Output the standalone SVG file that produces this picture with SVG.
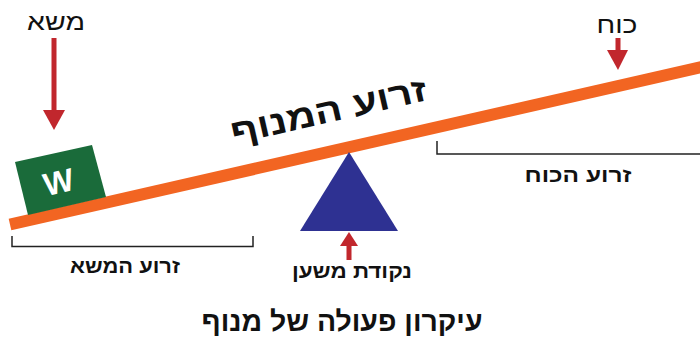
<svg xmlns="http://www.w3.org/2000/svg" width="700" height="340" viewBox="0 0 700 340">
<style>
.t{font-family:"Liberation Sans","DejaVu Sans",sans-serif;fill:#111;text-anchor:middle}
.b{font-weight:bold}
.red{fill:#c1272d}
.br{fill:none;stroke:#222;stroke-width:1.5}
</style>
<rect width="700" height="340" fill="#fff"/>
<g id="connectors">
<path class="br" d="M12,236 V246.5 H253 V236"/>
<path class="br" d="M437,141 V154 H700"/>
<rect class="red" x="51.5" y="38" width="5" height="74"/>
<polygon class="red" points="43,110 65,110 54,130"/>
<rect class="red" x="615.5" y="38" width="5" height="14"/>
<polygon class="red" points="607,50 628,50 618,70"/>
<rect class="red" x="346.5" y="244" width="5" height="16"/>
<polygon class="red" points="340,246 358,246 349,232"/>
</g>
<g id="lever">
<line x1="10" y1="224.5" x2="702" y2="67" stroke="#f26522" stroke-width="12"/>
<text class="t b" font-size="34" textLength="200" lengthAdjust="spacingAndGlyphs" transform="translate(331,122) rotate(-12.8)">זרוע המנוף</text>
</g>
<g id="fulcrum">
<polygon points="349,152 300,231 398,231" fill="#2e3192"/>
<text class="t b" x="352" y="278" font-size="20" textLength="120" lengthAdjust="spacingAndGlyphs">נקודת משען</text>
</g>
<g id="weight">
<polygon points="15,162 92,145 106,197 28,215" fill="#1a6b3a"/>
<text class="t b" font-size="32" style="fill:#fff" transform="translate(61,193) rotate(-12.8)">W</text>
<text class="t" x="56" y="30" font-size="24" textLength="58" lengthAdjust="spacingAndGlyphs">משא</text>
</g>
<g id="force">
<text class="t" x="617" y="33" font-size="24" textLength="41" lengthAdjust="spacingAndGlyphs">כוח</text>
</g>
<g id="labels">
<text class="t b" x="125" y="273" font-size="20" textLength="110" lengthAdjust="spacingAndGlyphs">זרוע המשא</text>
<text class="t b" x="578" y="182" font-size="20" textLength="107" lengthAdjust="spacingAndGlyphs">זרוע הכוח</text>
<text class="t b" x="342" y="331" font-size="28" textLength="281" lengthAdjust="spacingAndGlyphs">עיקרון פעולה של מנוף</text>
</g>
</svg>
